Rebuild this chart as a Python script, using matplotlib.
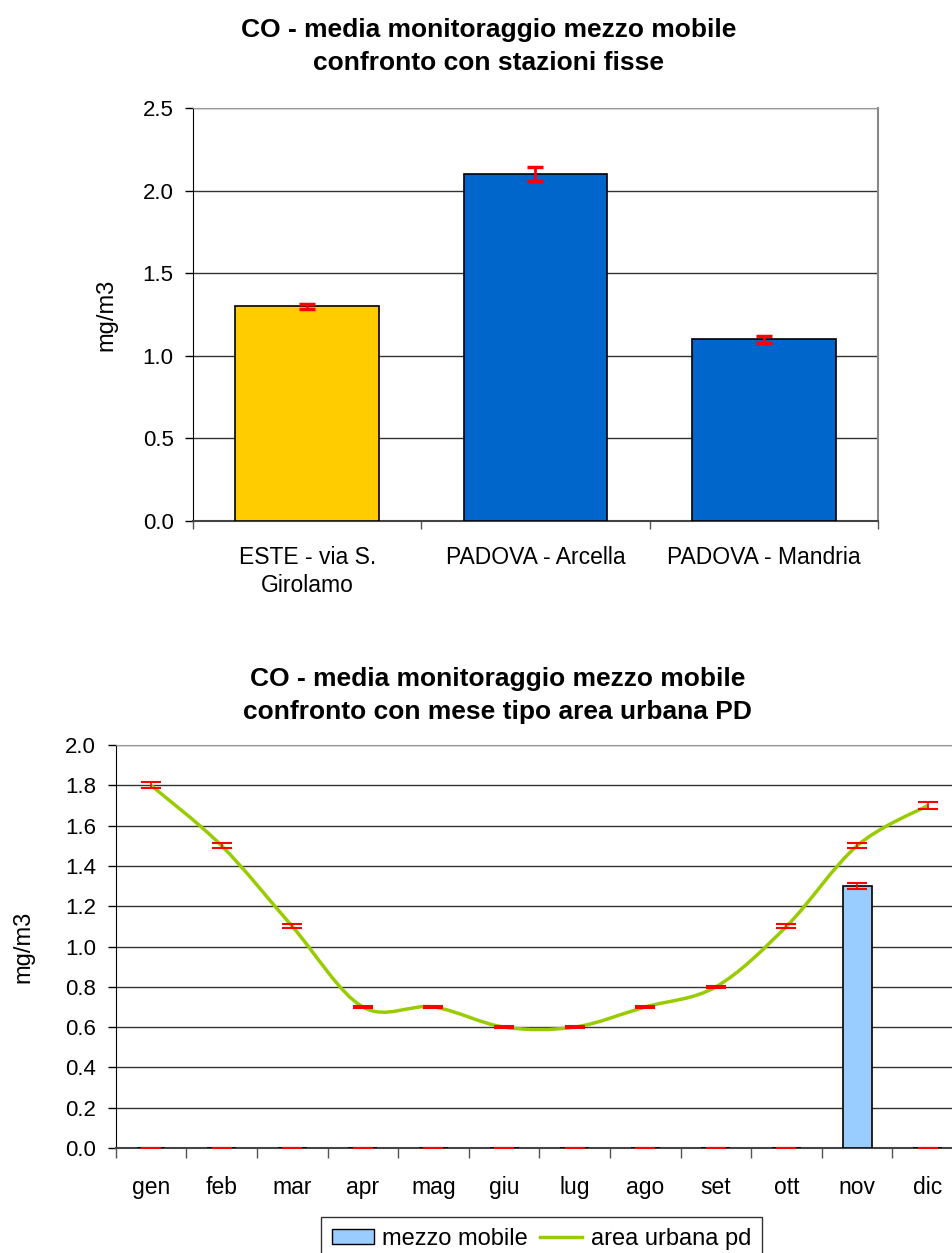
import numpy as np
import matplotlib
matplotlib.use("Agg")
import matplotlib.pyplot as plt
from matplotlib.path import Path
from matplotlib.patches import PathPatch, Patch
from matplotlib.lines import Line2D

plt.rcParams['font.family'] = ['Liberation Sans', 'DejaVu Sans']

# top chart: station averages
stazioni = ["ESTE - via S.\nGirolamo", "PADOVA - Arcella", "PADOVA - Mandria"]
media_stazioni = [1.30, 2.10, 1.10]
err_stazioni = [0.015, 0.04, 0.02]
colori_stazioni = ["#FFCC00", "#0066CC", "#0066CC"]

# bottom chart: monthly profile
mesi = ["gen", "feb", "mar", "apr", "mag", "giu", "lug", "ago", "set", "ott", "nov", "dic"]
mezzo_mobile = [0, 0, 0, 0, 0, 0, 0, 0, 0, 0, 1.30, 0]
err_mezzo = [0, 0, 0, 0, 0, 0, 0, 0, 0, 0, 0.015, 0]
area_urbana = [1.8, 1.5, 1.1, 0.7, 0.7, 0.6, 0.6, 0.7, 0.8, 1.1, 1.5, 1.7]
err_area = [0.015, 0.012, 0.01, 0.006, 0.005, 0.005, 0.005, 0.005, 0.006, 0.01, 0.012, 0.015]


def smooth_path(x, y):
    # Catmull-Rom style bezier through the points, like Excel's smoothed line
    pts = np.column_stack([x, y]).astype(float)
    verts = [pts[0]]
    codes = [Path.MOVETO]
    n = len(pts)
    for i in range(n - 1):
        p0 = pts[i - 1] if i > 0 else pts[i]
        p1 = pts[i]
        p2 = pts[i + 1]
        p3 = pts[i + 2] if i + 2 < n else pts[i + 1]
        c1 = p1 + (p2 - p0) / 6.0
        c2 = p2 - (p3 - p1) / 6.0
        verts += [c1, c2, p2]
        codes += [Path.CURVE4] * 3
    return Path(verts, codes)


fig = plt.figure(figsize=(9.53, 12.53), dpi=100)

# ---------------- top chart ----------------
ax1 = fig.add_axes([0.2025, 0.5842, 0.7188, 0.3296])
xs = np.arange(len(stazioni))
ax1.bar(xs, media_stazioni, width=0.63, color=colori_stazioni, edgecolor="black",
        linewidth=1.2, zorder=3)
ax1.errorbar(xs, media_stazioni, yerr=err_stazioni, fmt="none", ecolor="#FF0000",
             elinewidth=2, capsize=6, capthick=2.5, zorder=4)
ax1.set_xlim(-0.5, 2.5)
ax1.set_ylim(0, 2.5)
ax1.set_yticks(np.arange(0, 2.51, 0.5))
ax1.set_yticklabels([f"{v:.1f}" for v in np.arange(0, 2.51, 0.5)], fontsize=16)
ax1.set_xticks(xs)
ax1.set_xticklabels(stazioni, fontsize=16.5, linespacing=1.3)
ax1.set_xticks([-0.5, 0.5, 1.5, 2.5], minor=True)
ax1.tick_params(axis="x", which="major", length=0, pad=18)
ax1.tick_params(axis="x", which="minor", length=6, width=1, color="#555555")
ax1.tick_params(axis="y", length=6, width=1, pad=8)
ax1.grid(axis="y", color="#333333", linewidth=1, zorder=0)
ax1.set_axisbelow(True)
ax1.spines["left"].set_color("black")
ax1.spines["bottom"].set_color("#444444")
ax1.spines["bottom"].set_linewidth(1.5)
ax1.spines["top"].set_color("#999999")
ax1.spines["right"].set_color("#888888")
ax1.spines["right"].set_linewidth(1.5)
ax1.set_ylabel("mg/m3", fontsize=17, labelpad=18)
fig.text(0.513, 0.986, "CO - media monitoraggio mezzo mobile\nconfronto con stazioni fisse",
         ha="center", va="top", fontsize=19, fontweight="bold", linespacing=1.5)

# ---------------- bottom chart ----------------
ax2 = fig.add_axes([0.1214, 0.0838, 0.8891, 0.3216])
xm = np.arange(len(mesi))
ax2.bar(xm, mezzo_mobile, width=0.41, color="#99CCFF", edgecolor="black",
        linewidth=1.2, zorder=3)
ax2.errorbar(xm, mezzo_mobile, yerr=err_mezzo, fmt="none", ecolor="#FF0000",
             elinewidth=1.2, capsize=7.5, capthick=1.5, zorder=4)
ax2.add_patch(PathPatch(smooth_path(xm, area_urbana), facecolor="none",
                        edgecolor="#99CC00", linewidth=2.5, zorder=5))
ax2.errorbar(xm, area_urbana, yerr=err_area, fmt="none", ecolor="#FF0000",
             elinewidth=1.2, capsize=7.5, capthick=1.5, zorder=6)
ax2.set_xlim(-0.5, 11.5)
ax2.set_ylim(0, 2.0)
yt = np.arange(0, 2.01, 0.2)
ax2.set_yticks(yt)
ax2.set_yticklabels([f"{v:.1f}" for v in yt], fontsize=16)
ax2.set_xticks(xm)
ax2.set_xticklabels(mesi, fontsize=16.5)
ax2.set_xticks(np.arange(-0.5, 12, 1), minor=True)
ax2.tick_params(axis="x", which="major", length=0, pad=20)
ax2.tick_params(axis="x", which="minor", length=7, width=1, color="#555555")
ax2.tick_params(axis="y", length=6, width=1, pad=8)
ax2.grid(axis="y", color="#333333", linewidth=1, zorder=0)
ax2.set_axisbelow(True)
ax2.spines["left"].set_color("black")
ax2.spines["bottom"].set_color("#444444")
ax2.spines["bottom"].set_linewidth(1.5)
ax2.spines["top"].set_color("#999999")
ax2.spines["right"].set_visible(False)
ax2.set_ylabel("mg/m3", fontsize=17, labelpad=22)
fig.text(0.522, 0.468, "CO - media monitoraggio mezzo mobile\nconfronto con mese tipo area urbana PD",
         ha="center", va="top", fontsize=19, fontweight="bold", linespacing=1.5)

handles = [Patch(facecolor="#99CCFF", edgecolor="black", label="mezzo mobile"),
           Line2D([], [], color="#99CC00", linewidth=2.5, label="area urbana pd")]
leg = fig.legend(handles=handles, loc="upper center", bbox_to_anchor=(0.568, 0.0287),
                 ncol=2, fontsize=17, frameon=True, fancybox=False, edgecolor="black",
                 borderpad=0.45, borderaxespad=0, handlelength=1.8, handleheight=0.6,
                 handletextpad=0.35, columnspacing=0.5)
leg.get_frame().set_linewidth(1)

fig.savefig("out.png", dpi=100)
